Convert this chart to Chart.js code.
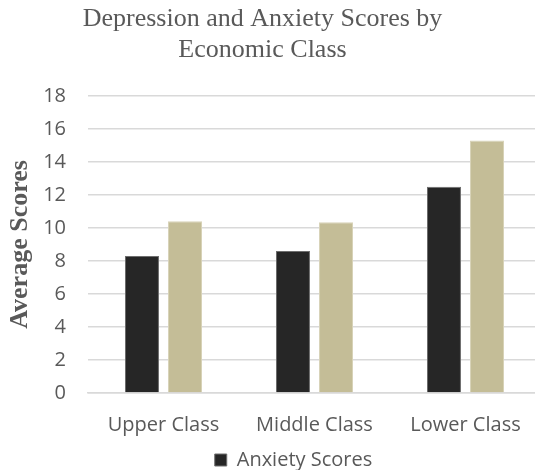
<!DOCTYPE html>
<html>
<head>
<meta charset="utf-8">
<script src="https://cdn.jsdelivr.net/npm/chart.js@4/dist/chart.umd.min.js"></script>
<style>
  html, body { margin: 0; padding: 0; background: #ffffff; overflow: hidden; }
  #wrap { width: 541px; height: 470px; }
</style>
</head>
<body>
<div id="wrap"><canvas id="c" width="541" height="470"></canvas></div>
<script>
// Average scores per economic class
const categories = ['Upper Class', 'Middle Class', 'Lower Class'];
const anxietyScores = [8.3, 8.6, 12.5];
const depressionScores = [10.4, 10.35, 15.3];
const yTickValues = [0, 2, 4, 6, 8, 10, 12, 14, 16, 18];

const textGray = '#595959';
const gridGray = '#d9d9d9';

// Move the title and legend blocks after layout
const blockOffsets = {
  id: 'blockOffsets',
  afterLayout(chart) {
    const t = chart.titleBlock;
    if (t) { t.left -= 8; t.right -= 8; }
    const l = chart.legend;
    if (l) { l.left += 23; l.right += 23; l.top += 10; l.bottom += 10; }
  }
};

new Chart(document.getElementById('c'), {
  type: 'bar',
  data: {
    labels: categories,
    datasets: [
      {
        label: 'Anxiety Scores',
        data: anxietyScores,
        backgroundColor: '#262626',
        borderColor: '#6e6e6e',
        borderWidth: 1
      },
      {
        label: 'Depression Scores',
        data: depressionScores,
        backgroundColor: '#c4bd97',
        borderColor: '#d8d3b8',
        borderWidth: 1
      }
    ]
  },
  options: {
    responsive: false,
    animation: false,
    layout: { padding: { left: 0, right: 0, top: 0, bottom: 0 } },
    datasets: {
      bar: { categoryPercentage: 0.57, barPercentage: 0.79 }
    },
    plugins: {
      title: {
        display: true,
        text: ['Depression and Anxiety Scores by', 'Economic Class'],
        color: textGray,
        font: { family: '"Liberation Serif", "Times New Roman", serif', size: 26, weight: 'normal', lineHeight: 1.19 },
        padding: { top: 4, bottom: 30 }
      },
      legend: {
        position: 'bottom',
        labels: {
          filter: item => item.datasetIndex === 0,
          boxWidth: 12,
          boxHeight: 12,
          color: textGray,
          font: { family: '"Open Sans", sans-serif', size: 20 },
          padding: 1
        }
      },
      tooltip: { enabled: false }
    },
    scales: {
      x: {
        afterFit: scale => { scale.height = 46; },
        grid: { display: false, drawTicks: false },
        border: { display: true, color: gridGray, width: 1.5 },
        ticks: {
          color: textGray,
          font: { family: '"Open Sans", sans-serif', size: 20 },
          padding: 20
        }
      },
      y: {
        min: 0,
        max: 18,
        afterBuildTicks: scale => { scale.ticks = yTickValues.map(v => ({ value: v })); },
        afterFit: scale => { scale.width = 88; },
        grid: { color: gridGray, lineWidth: 1.5, drawTicks: false },
        border: { display: false },
        ticks: {
          color: textGray,
          font: { family: '"Open Sans", sans-serif', size: 20 },
          padding: 22
        },
        title: {
          display: true,
          text: 'Average Scores',
          color: textGray,
          font: { family: '"Liberation Serif", "Times New Roman", serif', size: 26, weight: 'bold', lineHeight: 1.1 },
          padding: { top: 6, bottom: 0 }
        }
      }
    }
  },
  plugins: [blockOffsets]
});
</script>
</body>
</html>
